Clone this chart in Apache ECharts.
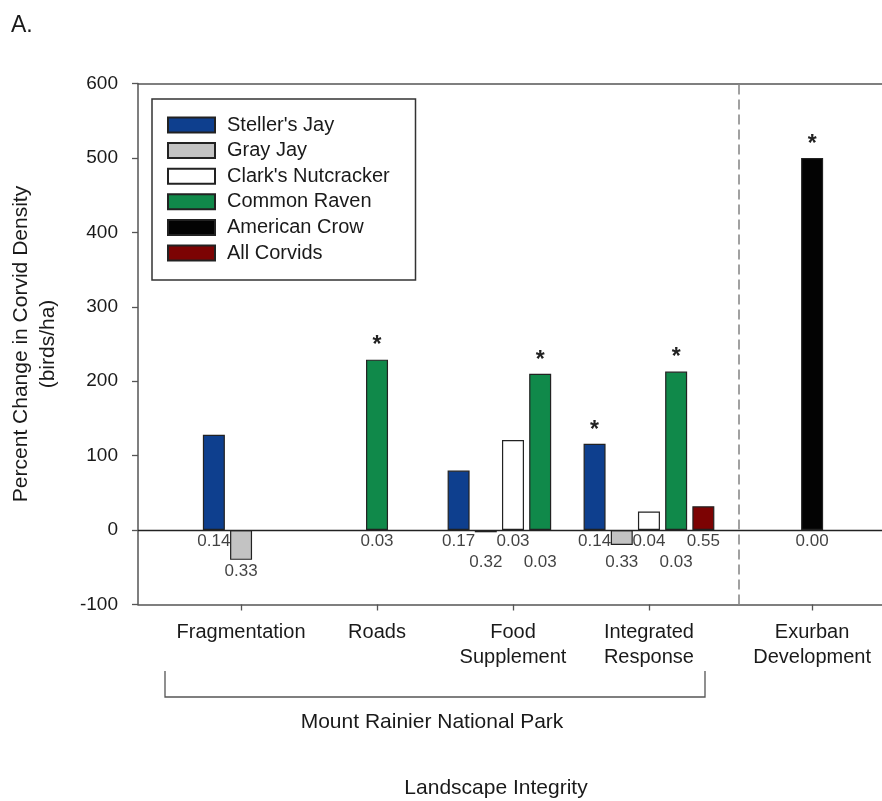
<!DOCTYPE html>
<html>
<head>
<meta charset="utf-8">
<title>Percent Change in Corvid Density</title>
<script src="https://cdn.jsdelivr.net/npm/echarts@6/dist/echarts.min.js"></script>
<style>
  html, body { margin: 0; padding: 0; background: #ffffff; }
  #chart { width: 882px; height: 801px; }
</style>
</head>
<body>
<div id="chart"></div>
<script>
// Landscape treatments (x-axis groups)
const groups = ['Fragmentation', 'Roads', 'Food\nSupplement', 'Integrated\nResponse', 'Exurban\nDevelopment'];

// Species shown as bars
const speciesNames = ["Steller's Jay", 'Gray Jay', "Clark's Nutcracker", 'Common Raven', 'American Crow', 'All Corvids'];

// Percent change in corvid density (birds/ha) per group; null = not shown
const stellersJay      = [128, null, 80, 116, null];
const grayJay          = [-40, null, -3, -20, null];
const clarksNutcracker = [null, null, 121, 25, null];
const commonRaven      = [null, 229, 210, 213, null];
const americanCrow     = [null, null, null, null, 500];
const allCorvids       = [null, null, null, 32, null];

// P-values printed under each bar
const stellersJayP      = ['0.14', null, '0.17', '0.14', null];
const grayJayP          = ['0.33', null, '0.32', '0.33', null];
const clarksNutcrackerP = [null, null, '0.03', '0.04', null];
const commonRavenP      = [null, '0.03', '0.03', '0.03', null];
const americanCrowP     = [null, null, null, null, '0.00'];
const allCorvidsP       = [null, null, null, '0.55', null];

// Significant changes (marked with an asterisk)
const stellersJaySig      = [false, false, false, true, false];
const grayJaySig          = [false, false, false, false, false];
const clarksNutcrackerSig = [false, false, false, false, false];
const commonRavenSig      = [false, true, true, true, false];
const americanCrowSig     = [false, false, false, false, true];
const allCorvidsSig       = [false, false, false, false, false];

// Y-axis ticks
const yTicks = [-100, 0, 100, 200, 300, 400, 500, 600];

// ---- layout (slot units along the x axis) ----
const groupCenter = [0, 5, 10, 15, 21];
const groupStart  = [-1, 0, -2, -2, 0];
const xRange = { min: -3.79, max: 23.57 };
const separatorX = 18.3;

const speciesValues = [stellersJay, grayJay, clarksNutcracker, commonRaven, americanCrow, allCorvids];
const speciesP = [stellersJayP, grayJayP, clarksNutcrackerP, commonRavenP, americanCrowP, allCorvidsP];
const speciesSig = [stellersJaySig, grayJaySig, clarksNutcrackerSig, commonRavenSig, americanCrowSig, allCorvidsSig];
const speciesColors = ['#0e3f8e', '#c3c3c3', '#ffffff', '#10894a', '#030303', '#7c0303'];

// place bars of each group in consecutive slots
const bars = [];
groups.forEach(function (g, gi) {
  let k = 0;
  speciesValues.forEach(function (vals, si) {
    if (vals[gi] !== null) {
      bars.push({ species: si, group: gi, x: groupCenter[gi] + groupStart[gi] + k, value: vals[gi],
                  p: speciesP[si][gi], sig: speciesSig[si][gi], row: k % 2 });
      k++;
    }
  });
});

const FONT = '"Liberation Sans", Arial, Helvetica, sans-serif';
const INK = '#1a1a1a';
const AXIS = '#555555';

const barSeries = speciesNames.map(function (name, si) {
  const s = {
    name: name,
    type: 'bar',
    barWidth: 22,
    barGap: '-100%',
    itemStyle: { color: speciesColors[si], borderColor: '#222', borderWidth: 1.2 },
    label: { show: false, position: 'top', distance: 2, formatter: '*',
             fontSize: 23, fontWeight: 'bold', color: '#222', fontFamily: FONT },
    emphasis: { disabled: true },
    data: bars.filter(function (b) { return b.species === si; }).map(function (b) {
      return { value: [b.x, b.value], label: { show: b.sig } };
    }),
    z: 3
  };
  if (si === 0) {
    s.markLine = {
      silent: true,
      symbol: 'none',
      label: { show: false },
      animation: false,
      data: [
        { yAxis: 0, lineStyle: { color: '#222', width: 1.3, type: 'solid' } },
        { xAxis: separatorX, lineStyle: { color: '#8a8a8a', width: 1.6, type: [10, 5] } }
      ]
    };
  }
  return s;
});

const option = {
  animation: false,
  backgroundColor: '#ffffff',
  textStyle: { fontFamily: FONT },
  grid: { left: 138, right: 0, top: 83.5, bottom: 196.5, containLabel: false, outerBoundsMode: 'none' },
  legend: {
    data: speciesNames,
    orient: 'vertical',
    left: 167,
    top: 115,
    padding: 0,
    icon: 'rect',
    itemWidth: 47,
    itemHeight: 15,
    itemGap: 5.6,
    selectedMode: false,
    textStyle: { fontSize: 20, color: INK, fontFamily: FONT, lineHeight: 20, padding: [0, 0, 0, 7] }
  },
  xAxis: [
    {
      type: 'value',
      min: xRange.min,
      max: xRange.max,
      position: 'bottom',
      splitLine: { show: false },
      axisLine: { show: true, onZero: false, lineStyle: { color: AXIS, width: 1.5 } },
      axisTick: { show: true, length: 6, customValues: groupCenter, lineStyle: { color: AXIS, width: 1.3 } },
      axisLabel: {
        show: true,
        customValues: groupCenter,
        formatter: function (v) {
          const i = groupCenter.indexOf(Math.round(v));
          return i >= 0 ? groups[i] : '';
        },
        fontSize: 20,
        lineHeight: 25,
        margin: 15,
        color: INK,
        fontFamily: FONT
      }
    },
    {
      type: 'value',
      min: xRange.min,
      max: xRange.max,
      position: 'top',
      splitLine: { show: false },
      axisLine: { show: true, onZero: false, lineStyle: { color: AXIS, width: 1.5 } },
      axisTick: { show: false },
      axisLabel: { show: false }
    }
  ],
  yAxis: {
    type: 'value',
    min: yTicks[0],
    max: yTicks[yTicks.length - 1],
    interval: 100,
    splitLine: { show: false },
    axisLine: { show: true, onZero: false, lineStyle: { color: AXIS, width: 1.5 } },
    axisTick: { show: true, length: 6, lineStyle: { color: AXIS, width: 1.3 } },
    axisLabel: { fontSize: 19, color: INK, margin: 20, fontFamily: FONT },
    name: 'Percent Change in Corvid Density\n(birds/ha)',
    nameLocation: 'middle',
    nameGap: 76,
    nameTextStyle: { fontSize: 21, lineHeight: 27, color: INK, fontFamily: FONT, align: 'center' }
  },
  graphic: [
    { type: 'text', left: 11, top: 14,
      style: { text: 'A.', font: '23px ' + FONT, fill: INK } },
    { type: 'rect', shape: { x: 152, y: 99, width: 263.5, height: 181 },
      style: { fill: 'none', stroke: '#333', lineWidth: 1.5 }, z: 10 },
    { type: 'polyline', shape: { points: [[165, 671], [165, 697], [705, 697], [705, 671]] },
      style: { fill: 'none', stroke: '#555', lineWidth: 1.3 } },
    { type: 'text', x: 432, y: 722,
      style: { text: 'Mount Rainier National Park', font: '21px ' + FONT, fill: INK,
               textAlign: 'center', textVerticalAlign: 'middle' } },
    { type: 'text', x: 496, y: 788,
      style: { text: 'Landscape Integrity', font: '21px ' + FONT, fill: INK,
               textAlign: 'center', textVerticalAlign: 'middle' } }
  ],
  series: barSeries
};

const chart = echarts.init(document.getElementById('chart'), null, { renderer: 'canvas' });
chart.setOption(option);

// p-value labels: alternate two rows under the zero line, and always below a negative bar
const zeroPx = chart.convertToPixel({ yAxisIndex: 0 }, 0);
const pxPerUnit = (zeroPx - chart.convertToPixel({ yAxisIndex: 0 }, 100)) / 100;
const rowOffset = [11, 32];
const pData = bars.filter(function (b) { return b.p !== null; }).map(function (b) {
  const barLen = Math.max(0, -b.value) * pxPerUnit;
  const dy = Math.max(rowOffset[b.row], barLen + 11);
  return { value: [b.x, 0], label: { formatter: b.p, offset: [0, dy] } };
});

chart.setOption({
  series: barSeries.concat([{
    id: 'pvalues',
    type: 'scatter',
    symbolSize: 1,
    itemStyle: { color: 'rgba(0,0,0,0)' },
    silent: true,
    emphasis: { disabled: true },
    label: { show: true, position: 'inside', fontSize: 17, color: '#111', fontFamily: FONT },
    data: pData,
    z: 5
  }])
});
</script>
</body>
</html>
